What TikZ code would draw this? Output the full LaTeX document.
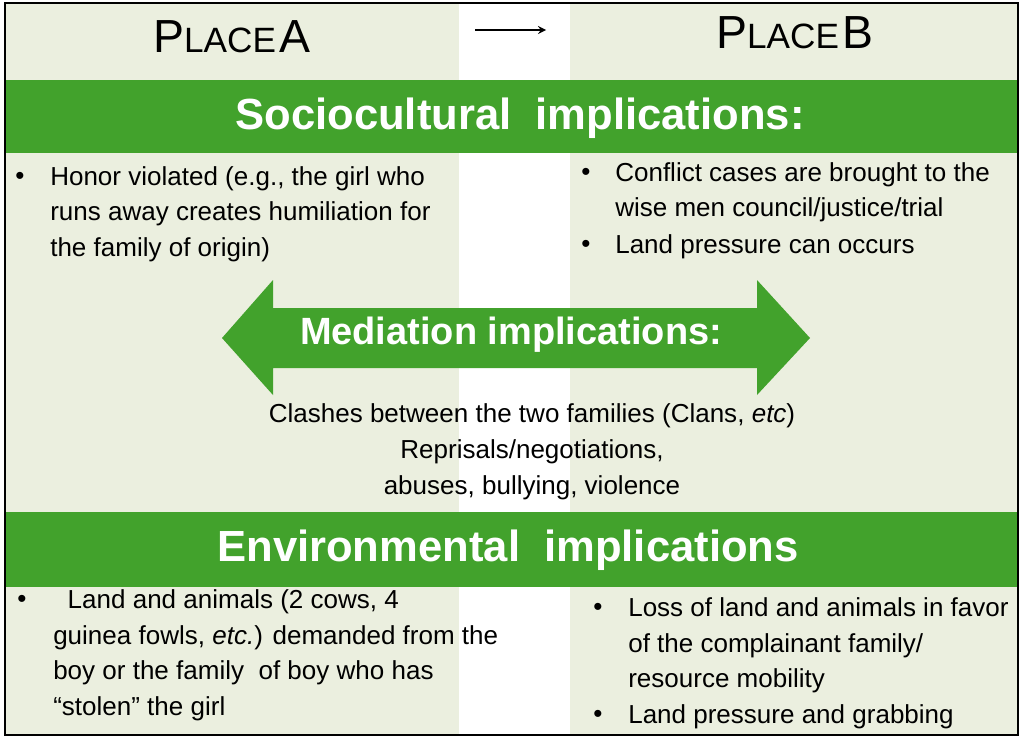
\documentclass[tikz,border=0pt]{standalone}
\usepackage{fontspec}
\setmainfont{Liberation Sans}
\usetikzlibrary{positioning}
\definecolor{panel}{HTML}{EBEFDF}
\definecolor{leaf}{HTML}{42A22C}
\tikzset{
  body/.style={font=\fontsize{18.5}{25.5}\selectfont, align=left, anchor=north west, inner sep=0pt},
  dot/.style={font=\fontsize{18.5}{25.5}\selectfont, anchor=north, inner sep=0pt},
  bar/.style={fill=leaf, draw=none},
  head/.style={text=white, font=\bfseries\fontsize{31}{34}\selectfont}
}
\newcommand{\placecap}[2]{{\fontsize{33}{36}\selectfont #1\fontsize{25}{28}\selectfont #2}}
\begin{document}
\begin{tikzpicture}[x=0.025cm, y=-0.025cm]
    \useasboundingbox (0,0) rectangle (1024,738);
    % Column panels
    \fill[panel] (5,3) rectangle (459,735);
    \fill[panel] (570,3) rectangle (1018,735);
    \fill[bar] (5,80) rectangle (1018,153);
    \fill[bar] (5,512) rectangle (1018,587);
    \draw[black, line width=0.8pt] (5,3) rectangle (1018,735);

    % Place headers
    \node (placeA) at (232,37) {\placecap{P}{LACE} \placecap{A}{}};
    \node (placeB) at (795,33) {\placecap{P}{LACE} \placecap{B}{}};
    \coordinate (moveL) at (475,30);
    \coordinate (moveR) at (546,30);
    \draw[-stealth, line width=1.5pt] (moveL) -- (moveR);

    % Bar titles
    \node[head] (socio) at (520,118) {Sociocultural\ \ implications:};
    \node[head] (envir) at (508,550) {Environmental\ \ implications};

    % Sociocultural bullets
    \node[dot] (sa) at (20,172) {\textbullet};
    \node[body] (sA) at (50,166) {Honor violated (e.g., the girl who\\runs away creates humiliation for\\the family of origin)};
    \node[dot] (sb) at (586,168) {\textbullet};
    \node[body] (sB) at (615,162) {Conflict cases are brought to the\\wise men council/justice/trial};
    \node[dot] (sc) at (586,240) {\textbullet};
    \node[body] (sC) at (615,234) {Land pressure can occurs};

    % Mediation double arrow
    \fill[leaf] (222,338) -- (273,280) -- (273,308) -- (757,308) -- (757,280) -- (810,338)
                -- (757,395) -- (757,368) -- (273,368) -- (273,395) -- cycle;
    \node[head, font=\bfseries\fontsize{27}{30}\selectfont] (mediaT) at (511,335) {Mediation implications:};
    \node[font=\fontsize{18.5}{25.5}\selectfont, align=center, inner sep=0pt] (mediaB) at (532,452)
          {Clashes between the two families (Clans, \textit{etc})\\Reprisals/negotiations,\\abuses, bullying, violence};

    % Environmental bullets
    \node[dot] (ea) at (22,595) {\textbullet};
    \node[body] (eA) at (53,589) {\ \ Land and animals (2 cows, 4\\guinea fowls, \textit{etc.}) demanded from the\\boy or the family\ \ of boy who has\\``stolen'' the girl};
    \node[dot] (eb) at (598,603) {\textbullet};
    \node[body] (eB) at (628,597) {Loss of land and animals in favor\\of the complainant family/\\resource mobility};
    \node[dot] (ec) at (598,710) {\textbullet};
    \node[body] (eC) at (628,704) {Land pressure and grabbing};
\end{tikzpicture}
\end{document}
